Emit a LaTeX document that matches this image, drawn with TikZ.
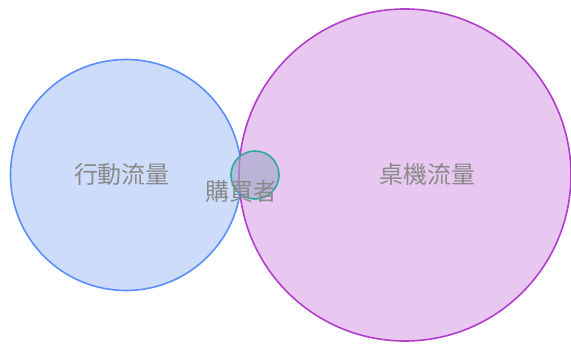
\documentclass[tikz,border=0pt]{standalone}
\usepackage{fontspec}
\newfontfamily\cjk{Noto Sans CJK TC}
\usetikzlibrary{positioning}
\definecolor{mobileline}{HTML}{5B8FF9}
\definecolor{mobilefill}{HTML}{CCDCFA}
\definecolor{deskline}{HTML}{B23FCB}
\definecolor{deskfill}{HTML}{E8C8F0}
\definecolor{buyline}{HTML}{2FA89E}
\definecolor{buyfill}{HTML}{A0A8C8}
\definecolor{labelgrey}{HTML}{8A8A8A}

\begin{document}
\begin{tikzpicture}
	[x=1pt,y=-1pt,
	mobile/.style={circle,draw=mobileline,fill=mobilefill,line width=1.6pt,inner sep=0pt,minimum size=231pt},
	desk/.style={circle,draw=deskline,fill=deskfill,line width=1.6pt,inner sep=0pt,minimum size=332pt},
	buyer/.style={circle,draw=buyline,fill=buyfill,fill opacity=0.6,line width=1.6pt,inner sep=0pt,minimum size=48pt},
	setlabel/.style={text=labelgrey,font=\cjk\fontsize{24}{24}\selectfont,inner sep=0pt}]
	\useasboundingbox (0,0) rectangle (571,347);
	\node (mobile) at (126,175) [mobile] {};
	\node (desk) at (405,175) [desk] {};
	\node (buyer) at (255,175) [buyer] {};
	\node (mobilelabel) at (122,174) [setlabel] {行動流量};
	\node (desklabel) at (427,174) [setlabel] {桌機流量};
	\node (buyerlabel) at (241,191) [setlabel] {購買者};
\end{tikzpicture}
\end{document}
